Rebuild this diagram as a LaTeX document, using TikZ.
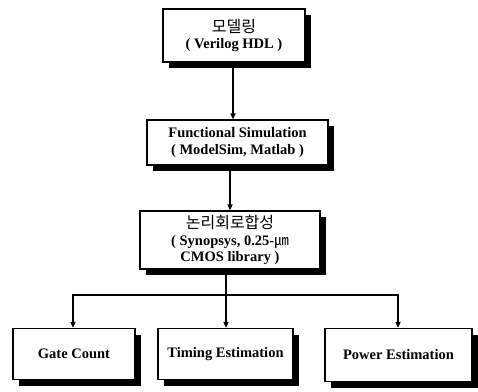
\documentclass[tikz,border=0pt]{standalone}
\usepackage{fontspec}
\setmainfont{Liberation Serif}
\newfontfamily\kr{Noto Sans CJK KR}
\usetikzlibrary{shadows,arrows.meta}
\begin{document}
\begin{tikzpicture}[x=1pt,y=-1pt,
  box/.style={draw=black,line width=1.2pt,fill=white,rectangle,inner sep=0pt,align=center,
    font=\bfseries\fontsize{14.5}{16.5}\selectfont,
    drop shadow={shadow xshift=6pt,shadow yshift=-6pt,opacity=1,fill=black}},
  krtext/.style={},
  conn/.style={line width=1.6pt,-{Triangle[length=6pt,width=5pt]}},
  wire/.style={line width=1.6pt}]
\useasboundingbox[fill=white] (0,0) rectangle (478,391);
\node[box,minimum width=142pt,minimum height=53pt] (m) at (234,35.5) {{\kr\mdseries\fontsize{16}{17}\selectfont 모델링}\\( Verilog HDL )};
\node[box,minimum width=181pt,minimum height=45pt] (f) at (237.5,142.5) {Functional Simulation\\( ModelSim, Matlab )};
\node[box,minimum width=180pt,minimum height=58pt] (s) at (230,240) {{\kr\mdseries\fontsize{16}{17}\selectfont 논리회로합성}\\( Synopsys, 0.25-{\kr\mdseries ㎛}\\CMOS library )};
\node[box,minimum width=122pt,minimum height=51pt] (g) at (74,354) {Gate Count};
\node[box,minimum width=135pt,minimum height=51pt] (t) at (225.5,354) {Timing Estimation};
\node[box,minimum width=147pt,minimum height=53pt] (p) at (398.5,355) {Power Estimation};
\coordinate (j) at (226,295);
\coordinate (jl) at (73,295);
\coordinate (jr) at (398,295);
\draw[conn] (m.south -| 233,0) -- (f.north -| 233,0);
\draw[conn] (f.south -| 230,0) -- (s.north -| 230,0);
\draw[wire] (s.south -| j) -- (j);
\draw[wire] (jl) -- (jr);
\draw[conn] ([yshift=0.8pt]jl) -- (g.north -| jl);
\draw[conn] (j) -- (t.north -| j);
\draw[conn] ([yshift=0.8pt]jr) -- (p.north -| jr);
\end{tikzpicture}
\end{document}
